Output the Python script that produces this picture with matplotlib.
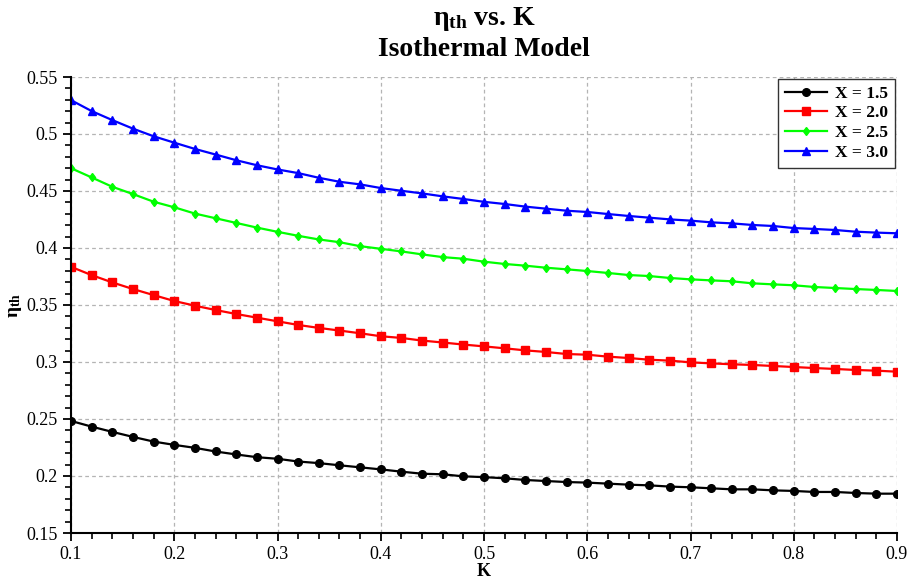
import matplotlib
matplotlib.use("Agg")
import matplotlib.pyplot as plt
import numpy as np
from matplotlib.ticker import MultipleLocator

plt.rcParams["font.family"] = ["Liberation Serif", "DejaVu Serif"]
plt.rcParams["mathtext.fontset"] = "custom"
plt.rcParams["mathtext.rm"] = "Liberation Serif"
plt.rcParams["mathtext.bf"] = "Liberation Serif:bold"

k_values = [0.10, 0.12, 0.14, 0.16, 0.18, 0.20, 0.22, 0.24, 0.26, 0.28,
            0.30, 0.32, 0.34, 0.36, 0.38, 0.40, 0.42, 0.44, 0.46, 0.48,
            0.50, 0.52, 0.54, 0.56, 0.58, 0.60, 0.62, 0.64, 0.66, 0.68,
            0.70, 0.72, 0.74, 0.76, 0.78, 0.80, 0.82, 0.84, 0.86, 0.88, 0.90]

eta_x15 = [0.2483, 0.2433, 0.2387, 0.2343, 0.2302, 0.2273, 0.2247, 0.2215, 0.2189, 0.2165,
           0.2151, 0.2127, 0.2113, 0.2094, 0.2076, 0.2058, 0.2038, 0.2020, 0.2015, 0.1997,
           0.1990, 0.1980, 0.1965, 0.1956, 0.1947, 0.1942, 0.1933, 0.1924, 0.1918, 0.1907,
           0.1901, 0.1892, 0.1883, 0.1883, 0.1874, 0.1869, 0.1860, 0.1860, 0.1851, 0.1845, 0.1845]

eta_x20 = [0.3835, 0.3762, 0.3698, 0.3640, 0.3587, 0.3535, 0.3494, 0.3456, 0.3421, 0.3389,
           0.3357, 0.3325, 0.3299, 0.3276, 0.3252, 0.3226, 0.3211, 0.3188, 0.3171, 0.3153,
           0.3137, 0.3120, 0.3102, 0.3088, 0.3070, 0.3064, 0.3047, 0.3035, 0.3020, 0.3012,
           0.2997, 0.2988, 0.2980, 0.2974, 0.2965, 0.2956, 0.2947, 0.2939, 0.2930, 0.2924, 0.2915]

eta_x25 = [0.4700, 0.4619, 0.4537, 0.4473, 0.4406, 0.4357, 0.4302, 0.4261, 0.4220, 0.4179,
           0.4142, 0.4107, 0.4075, 0.4051, 0.4016, 0.3993, 0.3970, 0.3944, 0.3920, 0.3906,
           0.3880, 0.3860, 0.3845, 0.3827, 0.3813, 0.3798, 0.3781, 0.3763, 0.3754, 0.3737,
           0.3725, 0.3716, 0.3708, 0.3690, 0.3681, 0.3673, 0.3658, 0.3649, 0.3640, 0.3632, 0.3623]

eta_x30 = [0.5297, 0.5201, 0.5122, 0.5047, 0.4980, 0.4924, 0.4869, 0.4820, 0.4770, 0.4726,
           0.4689, 0.4657, 0.4616, 0.4581, 0.4558, 0.4526, 0.4502, 0.4479, 0.4453, 0.4430,
           0.4405, 0.4386, 0.4363, 0.4345, 0.4327, 0.4316, 0.4298, 0.4281, 0.4266, 0.4251,
           0.4240, 0.4225, 0.4216, 0.4202, 0.4193, 0.4175, 0.4167, 0.4158, 0.4143, 0.4135, 0.4129]

series_labels = ["X = 1.5", "X = 2.0", "X = 2.5", "X = 3.0"]
series_values = [eta_x15, eta_x20, eta_x25, eta_x30]
colors = ["#000000", "#ff0000", "#00ff00", "#0000ff"]
markers = ["o", "s", "d", "^"]
marker_sizes = [5.5, 6, 4.5, 5.5]

fig = plt.figure(figsize=(9.09, 5.85), dpi=100)
ax = fig.add_axes([71 / 909, 1 - 533 / 585, (897 - 71) / 909, (533 - 77) / 585])

for label, values, color, marker, ms in zip(series_labels, series_values, colors, markers, marker_sizes):
    ax.plot(k_values, values, color=color, marker=marker, markersize=ms,
            linewidth=1.6, label=label)

ax.set_xlim(0.1, 0.9)
ax.set_ylim(0.15, 0.55)
ax.xaxis.set_major_locator(MultipleLocator(0.1))
ax.xaxis.set_minor_locator(MultipleLocator(0.02))
ax.yaxis.set_major_locator(MultipleLocator(0.05))
ax.yaxis.set_minor_locator(MultipleLocator(0.01))
ax.set_xticklabels([f"{v:g}" for v in ax.get_xticks()])
ax.set_yticklabels([f"{v:g}" for v in ax.get_yticks()])
ax.tick_params(which="major", direction="out", length=6, width=1.3, labelsize=13)
ax.tick_params(which="minor", direction="out", length=4, width=1.2)

ax.grid(True, which="major", color="#b4b4b4", linestyle=(0, (3, 2.5)), linewidth=0.9)
ax.spines["top"].set_visible(False)
ax.spines["right"].set_visible(False)
ax.spines["left"].set_linewidth(1.5)
ax.spines["bottom"].set_linewidth(1.5)

ax.set_xlabel("K", fontsize=13, fontweight="bold", labelpad=0)
ax.set_ylabel(r"$\mathbf{\eta_{th}}$", fontsize=14, labelpad=2)

title_x = (71 + 897) / 2 / 909
fig.text(title_x, 1 - 19 / 585, r"$\mathbf{\eta_{th}}$ vs. K", ha="center", va="center",
         fontsize=20, fontweight="bold")
fig.text(title_x, 1 - 49 / 585, "Isothermal Model", ha="center", va="center",
         fontsize=20, fontweight="bold")

leg = ax.legend(loc="upper right", bbox_to_anchor=(1.0, 1.0), borderaxespad=0.1,
                fancybox=False, framealpha=1, edgecolor="#333333",
                prop={"weight": "bold", "size": 12.5}, handlelength=2.4, borderpad=0.4,
                labelspacing=0.2, handletextpad=0.5)
leg.get_frame().set_linewidth(1.0)

fig.savefig("out.png", dpi=100)
